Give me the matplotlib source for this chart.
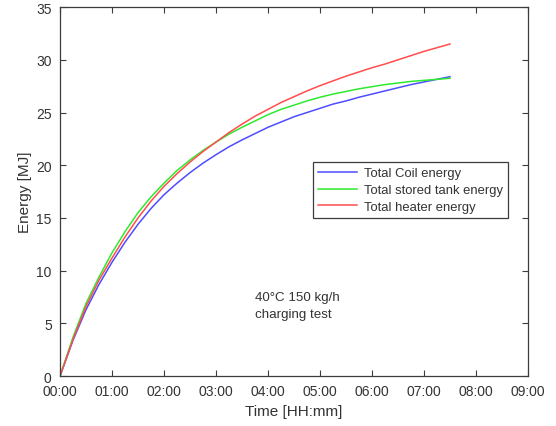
import matplotlib
matplotlib.use("Agg")
import matplotlib.pyplot as plt

# Elapsed time since start of the charging test [h], 15-minute steps
time_h = [0, 0.25, 0.5, 0.75, 1, 1.25, 1.5, 1.75, 2, 2.25, 2.5, 2.75, 3,
          3.25, 3.5, 3.75, 4, 4.25, 4.5, 4.75, 5, 5.25, 5.5, 5.75, 6,
          6.25, 6.5, 6.75, 7, 7.25, 7.5]

# Cumulative energies [MJ]
coil_energy = [0, 3.4, 6.3, 8.7, 10.8, 12.7, 14.4, 15.9, 17.2, 18.3, 19.3,
               20.2, 21.0, 21.75, 22.4, 23.0, 23.6, 24.1, 24.6, 25.0, 25.4,
               25.8, 26.1, 26.45, 26.75, 27.05, 27.35, 27.65, 27.9, 28.15,
               28.4]
tank_energy = [0, 3.7, 6.9, 9.4, 11.7, 13.7, 15.5, 17.0, 18.3, 19.5, 20.5,
               21.4, 22.2, 22.95, 23.6, 24.2, 24.8, 25.3, 25.7, 26.1, 26.45,
               26.75, 27.0, 27.25, 27.45, 27.65, 27.8, 27.95, 28.05, 28.15,
               28.25]
heater_energy = [0, 3.5, 6.6, 9.1, 11.2, 13.2, 15.0, 16.6, 18.0, 19.2, 20.3,
                 21.3, 22.2, 23.1, 23.9, 24.65, 25.3, 25.95, 26.5, 27.05,
                 27.55, 28.0, 28.45, 28.85, 29.25, 29.6, 30.0, 30.4, 30.8,
                 31.15, 31.5]

series_labels = ["Total Coil energy", "Total stored tank energy",
                 "Total heater energy"]

x_ticks = [0, 1, 2, 3, 4, 5, 6, 7, 8, 9]
x_tick_labels = ["00:00", "01:00", "02:00", "03:00", "04:00", "05:00",
                 "06:00", "07:00", "08:00", "09:00"]
y_ticks = [0, 5, 10, 15, 20, 25, 30, 35]

plt.rcParams["font.family"] = ["Liberation Sans", "DejaVu Sans"]

fig = plt.figure(figsize=(5.56, 4.27), dpi=100)
ax = fig.add_axes([0.108, 0.117, 0.8416, 0.864])

axis_grey = "#3c3c3c"
text_grey = "#333333"

ax.plot(time_h, coil_energy, color="#4d4dff", lw=1.1, label=series_labels[0])
ax.plot(time_h, tank_energy, color="#2eea2e", lw=1.1, label=series_labels[1])
ax.plot(time_h, heater_energy, color="#ff4d4d", lw=1.1, label=series_labels[2])

ax.set_xlim(0, 9)
ax.set_ylim(0, 35)
ax.set_xticks(x_ticks)
ax.set_xticklabels(x_tick_labels)
ax.set_yticks(y_ticks)

ax.tick_params(direction="in", top=True, right=True, length=4, width=0.8,
               colors=axis_grey, labelcolor=text_grey, labelsize=10, pad=6)
for sp in ax.spines.values():
    sp.set_color(axis_grey)
    sp.set_linewidth(0.9)

ax.set_xlabel("Time [HH:mm]", fontsize=11, color=text_grey, labelpad=4)
ax.set_ylabel("Energy [MJ]", fontsize=11, color=text_grey, labelpad=3)

leg = ax.legend(loc="upper right", bbox_to_anchor=(0.957, 0.58),
                fontsize=9.4, frameon=True, fancybox=False, framealpha=1,
                edgecolor=axis_grey, handlelength=3.0, borderpad=0.4,
                labelspacing=0.35, handletextpad=0.5, borderaxespad=0)
leg.get_frame().set_linewidth(0.9)
for t in leg.get_texts():
    t.set_color(text_grey)

ax.text(3.75, 6.7, "40°C 150 kg/h\ncharging test", fontsize=9.6,
        color=text_grey, va="center", ha="left", linespacing=1.55)

fig.savefig("out.png", dpi=100)
